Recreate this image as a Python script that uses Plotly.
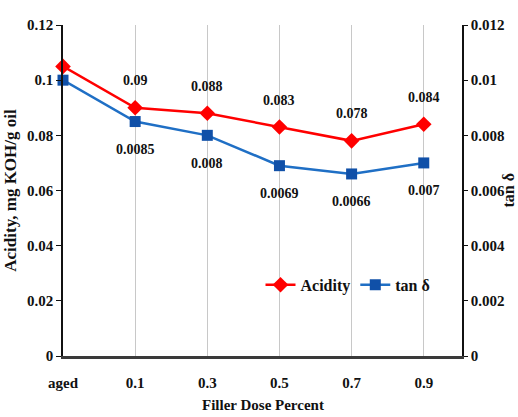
import plotly.graph_objects as go

categories = ["aged", "0.1", "0.3", "0.5", "0.7", "0.9"]
acidity = [0.105, 0.09, 0.088, 0.083, 0.078, 0.084]
tan_delta = [0.0100, 0.0085, 0.008, 0.0069, 0.0066, 0.007]
acidity_labels = [None, "0.09", "0.088", "0.083", "0.078", "0.084"]
tan_labels = [None, "0.0085", "0.008", "0.0069", "0.0066", "0.007"]

FONT = "Liberation Serif"
xpos = list(range(len(categories)))

fig = go.Figure()
fig.add_trace(go.Scatter(
    x=xpos, y=acidity, name="<b>Acidity</b>", mode="lines+markers",
    line=dict(color="#FF0000", width=2.5),
    marker=dict(symbol="diamond", size=12, color="#FF0000"),
    cliponaxis=False, yaxis="y"))
fig.add_trace(go.Scatter(
    x=xpos, y=tan_delta, name="<b>tan δ</b>", mode="lines+markers",
    line=dict(color="#1F6FC5", width=2.5),
    marker=dict(symbol="square", size=11, color="#1050A8"),
    cliponaxis=False, yaxis="y2"))

ann = []
for xi, v, t in zip(xpos, acidity, acidity_labels):
    if t:
        ann.append(dict(x=xi, y=v, xref="x", yref="y", text="<b>%s</b>" % t, showarrow=False,
                        yshift=27, font=dict(family=FONT, size=14, color="#111111")))
for xi, v, t in zip(xpos, tan_delta, tan_labels):
    if t:
        ann.append(dict(x=xi, y=v, xref="x", yref="y2", text="<b>%s</b>" % t, showarrow=False,
                        yshift=-28, font=dict(family=FONT, size=14, color="#111111")))
# right-hand axis title (reads bottom to top, at the page edge)
ann.append(dict(x=1.0, y=0.5, xref="paper", yref="paper", xshift=46, text="<b>tan δ</b>",
                textangle=-90, showarrow=False, xanchor="center", yanchor="middle",
                font=dict(family=FONT, size=16, color="#111111")))
# x-axis title
ann.append(dict(x=0.5, y=0, xref="paper", yref="paper", yshift=-49, text="<b>Filler Dose Percent</b>",
                showarrow=False, xanchor="center", yanchor="middle",
                font=dict(family=FONT, size=15, color="#111111")))

fig.update_layout(
    width=518, height=417,
    margin=dict(l=63, r=56, t=25, b=61, autoexpand=False),
    paper_bgcolor="white", plot_bgcolor="white",
    font=dict(family=FONT, size=15, color="#111111"),
    showlegend=True,
    legend=dict(orientation="h", x=0.495, xanchor="left", y=0.215, yanchor="middle",
                bgcolor="rgba(0,0,0,0)", font=dict(family=FONT, size=16, color="#111111"),
                itemwidth=30),
    annotations=ann,
    xaxis=dict(
        range=[0, 5.53], tickvals=xpos, ticktext=["<b>%s</b>" % c for c in categories],
        showgrid=True, gridcolor="#C8C8C8", gridwidth=1,
        showline=True, linecolor="#3A3A3A", linewidth=3,
        ticks="", ticklabelstandoff=11, zeroline=False, automargin=False,
        tickfont=dict(family=FONT, size=15),
    ),
    yaxis=dict(
        range=[0, 0.12], dtick=0.02, showgrid=False, zeroline=False, automargin=False,
        showline=True, linecolor="#111111", linewidth=1.5,
        ticks="outside", ticklen=5, tickcolor="#111111",
        tickfont=dict(family=FONT, size=15),
        tickprefix="<b>", ticksuffix="</b>",
        title=dict(text="<b>Acidity, mg KOH/g oil</b>", standoff=6,
                   font=dict(family=FONT, size=17)),
    ),
    yaxis2=dict(
        range=[0, 0.012], dtick=0.002, overlaying="y", side="right",
        showgrid=False, zeroline=False, automargin=False,
        showline=True, linecolor="#111111", linewidth=1.5,
        ticks="outside", ticklen=4, tickcolor="#111111",
        tickfont=dict(family=FONT, size=15),
        tickprefix="<b>", ticksuffix="</b>",
    ),
)

fig.write_html("out.html")
